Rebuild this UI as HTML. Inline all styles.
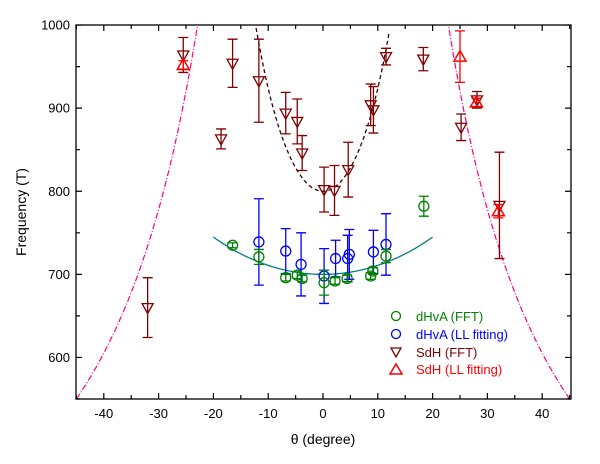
<!DOCTYPE html>
<html><head><meta charset="utf-8"><style>
body{margin:0;background:#fff}
svg{font-family:"Liberation Sans",sans-serif}
</style></head><body>
<svg id="chart" width="600" height="459" viewBox="0 0 600 459" xmlns="http://www.w3.org/2000/svg">
<defs><clipPath id="clip"><rect x="76" y="25" width="495" height="374"/></clipPath></defs>
<g id="marks" clip-path="url(#clip)"></g>
<g id="axes"></g>
<text x="26" y="212" font-size="14" text-anchor="middle" transform="rotate(-90 26 212)">Frequency (T)</text>
<text x="323" y="444" font-size="14" text-anchor="middle">θ (degree)</text>
<g font-size="13">
<circle cx="396" cy="316" r="4.5" fill="none" stroke="#008000" stroke-width="1.3"/>
<text x="416" y="321" fill="#008000">dHvA (FFT)</text>
<circle cx="396" cy="334" r="4.5" fill="none" stroke="#0000ff" stroke-width="1.3"/>
<text x="416" y="339" fill="#0000ff">dHvA (LL fitting)</text>
<path d="M391,348 L401,348 L396,357 Z" fill="none" stroke="#800000" stroke-width="1.3"/>
<text x="416" y="357" fill="#800000">SdH (FFT)</text>
<path d="M390,374 L402,374 L396,364 Z" fill="none" stroke="#ff0000" stroke-width="1.5"/>
<text x="416" y="374" fill="#ff0000">SdH (LL fitting)</text>
</g>
</svg>
<script>
const dhvaFftAngle=[-16.5,-11.7,-6.8,-4.7,-3.8,0.2,2.2,4.4,8.7,9.1,11.5,18.4];
const dhvaFftFreq=[735,721,696,699,695,690,692,695,698,704,722,782];
const dhvaFftErr=[3,9,4,4,4,15,4,4,4,4,8,12];
const dhvaLlAngle=[-11.7,-6.8,-4.0,0.2,2.3,4.5,4.8,9.2,11.5];
const dhvaLlFreq=[739,728,712,698,719,719,724,727,736];
const dhvaLlErr=[52,27,38,33,22,28,30,26,37];
const sdhFftAngle=[-32,-25.5,-18.6,-16.5,-11.7,-6.8,-4.7,-3.8,0.2,2.1,4.6,8.7,9.2,11.5,18.3,25.2,28.1,32.2];
const sdhFftFreq=[660,964,863,954,933,894,884,846,802,801,826,904,898,962,959,877,910,783];
const sdhFftErr=[36,21,12,29,50,25,27,21,27,30,33,25,28,10,14,16,10,64];
const sdhLlAngle=[-25.5,25,28,32];
const sdhLlFreq=[952,962,907,776];
const sdhLlErr=[5,31,5,8];
const xTicks=[-40,-30,-20,-10,0,10,20,30,40];
const yTicks=[600,700,800,900,1000];

const NS='http://www.w3.org/2000/svg';
const X=t=>323+t*5.48;
const Y=f=>399-(f-550)*0.831;
const marks=document.getElementById('marks'),axes=document.getElementById('axes');
function mk(tag,attrs,parent){const e=document.createElementNS(NS,tag);for(const k in attrs)e.setAttribute(k,attrs[k]);parent.appendChild(e);return e;}

function curve(fn,a,b,style,name){let d='';for(let t=a;t<=b+1e-9;t+=0.25){const f=fn(t);d+=(d?'L':'M')+X(t).toFixed(1)+','+Y(Math.min(f,1100)).toFixed(1);}
 const p=mk('path',Object.assign({d:d,fill:'none'},style),marks);
 
 }
curve(t=>700/Math.cos(t*Math.PI/180),-20,20,{stroke:'#008080','stroke-width':1.3},'fit-dhva-curve');
curve(t=>800/Math.cos(3*t*Math.PI/180),-12.2,12.2,{stroke:'#300','stroke-width':1.3,'stroke-dasharray':'4,3'},'fit-sdh-curve');
curve(t=>389/Math.sin(-t*Math.PI/180),-45,-21,{stroke:'#ff0080','stroke-width':1.2,'stroke-dasharray':'6,2,1,2'},'boundary-curve-left');
curve(t=>389/Math.sin(t*Math.PI/180),21,45,{stroke:'#ff0080','stroke-width':1.2,'stroke-dasharray':'6,2,1,2'},'boundary-curve-right');

function series(ang,fr,er,color,shape,name){
 for(let i=0;i<ang.length;i++){
  const x=X(ang[i]),y=Y(fr[i]),yt=Y(fr[i]+er[i]),yb=Y(fr[i]-er[i]);
  const g=mk('g',{stroke:color,'stroke-width':1.3,fill:'none'},marks);
  
  
  mk('path',{d:`M${x},${yt}V${yb}M${x-5},${yt}H${x+5}M${x-5},${yb}H${x+5}`},g);
  if(shape==='c')mk('circle',{cx:x,cy:y,r:5},g);
  else if(shape==='d')mk('path',{d:`M${x-5.5},${y-4}L${x+5.5},${y-4}L${x},${y+6}Z`},g);
  else mk('path',{d:`M${x-6},${y+4.5}L${x+6},${y+4.5}L${x},${y-6}Z`,'stroke-width':1.5},g);
 }}
series(sdhFftAngle,sdhFftFreq,sdhFftErr,'#800000','d','sdh-fft');
series(sdhLlAngle,sdhLlFreq,sdhLlErr,'#ff0000','u','sdh-ll');
series(dhvaLlAngle,dhvaLlFreq,dhvaLlErr,'#0000ff','c','dhva-ll');
series(dhvaFftAngle,dhvaFftFreq,dhvaFftErr,'#008000','c','dhva-fft');

const fr=mk('rect',{x:76,y:25,width:495,height:374,fill:'none',stroke:'#000','stroke-width':1.3},axes);


let tk='';
for(let t=-45;t<=45;t+=5){const x=X(t),L=(t%10===0)?6:4;tk+=`M${x},399v${-L}M${x},25v${L}`;}
for(let f=550;f<=1000;f+=50){const y=Y(f),L=(f%100===0)?6:4;tk+=`M76,${y}h${L}M571,${y}h${-L}`;}
const tp=mk('path',{d:tk,stroke:'#000','stroke-width':1.2},axes);


xTicks.forEach(t=>{const e=mk('text',{x:X(t),y:418,'font-size':13,'text-anchor':'middle'},axes);e.textContent=t;
 
 });
yTicks.forEach(f=>{const e=mk('text',{x:70,y:Y(f)+4.5,'font-size':13,'text-anchor':'end'},axes);e.textContent=f;
 
 });
</script>
</body></html>
